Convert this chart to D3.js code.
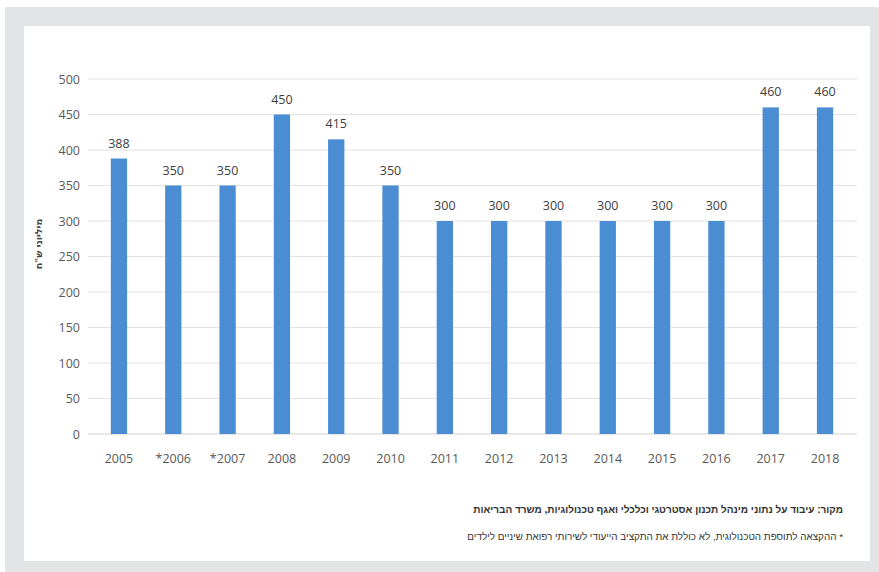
<!DOCTYPE html>
<html><head><meta charset="utf-8">
<script src="https://cdn.jsdelivr.net/npm/d3@7"></script>
<style>body{margin:0;background:#fff}svg{display:block}</style>
</head><body>
<svg id="c" width="879" height="572"></svg>
<script>
const years = ["2005","*2006","*2007","2008","2009","2010","2011","2012","2013","2014","2015","2016","2017","2018"];
const values = [388,350,350,450,415,350,300,300,300,300,300,300,460,460];
const yTicks = [0,50,100,150,200,250,300,350,400,450,500];
const yTitle = "מיליוני ש\"ח";
const source = "מקור: עיבוד על נתוני מינהל תכנון אסטרטגי וכלכלי ואגף טכנולוגיות, משרד הבריאות";
const note = "* ההקצאה לתוספת הטכנולוגית, לא כוללת את התקציב הייעודי לשירותי רפואת שיניים לילדים";

const svg = d3.select("#c");
const font = "'Liberation Sans Narrow','Open Sans',sans-serif";
svg.append("rect").attr("x",5).attr("y",7).attr("width",874).attr("height",565).attr("fill","#e3e4e6");
svg.append("rect").attr("x",24).attr("y",26).attr("width",846).attr("height",535).attr("fill","#ffffff");

const x = d3.scaleBand().domain(years).range([91.8,852.2]).paddingInner(0.7).paddingOuter(0.35);
const y = d3.scaleLinear().domain([0,500]).range([434,79]);

// grid
svg.append("g").selectAll("line").data(yTicks).join("line")
  .attr("x1",88).attr("x2",857).attr("y1",d=>y(d)).attr("y2",d=>y(d))
  .attr("stroke",d=>d===0?"#d0d0d0":"#e2e2e2").attr("stroke-width",1);

// y axis
const ya = svg.append("g").attr("transform","translate(80,0)")
  .call(d3.axisLeft(y).tickValues(yTicks).tickSize(0).tickPadding(0));
ya.select(".domain").remove();
ya.selectAll("text").attr("font-family",font).attr("font-size",12.5).attr("fill","#595959");

// x axis
const xa = svg.append("g").attr("transform","translate(0,434)")
  .call(d3.axisBottom(x).tickSize(0).tickPadding(20));
xa.select(".domain").remove();
xa.selectAll("text").attr("font-family",font).attr("font-size",12.5).attr("fill","#595959");

// bars
svg.append("g").selectAll("rect").data(values).join("rect")
  .attr("x",(d,i)=>x(years[i])).attr("width",x.bandwidth())
  .attr("y",d=>y(d)).attr("height",d=>y(0)-y(d)).attr("fill","#4a8dd3");

// value labels
svg.append("g").selectAll("text").data(values).join("text")
  .attr("x",(d,i)=>x(years[i])+x.bandwidth()/2).attr("y",d=>y(d)-11)
  .attr("text-anchor","middle").attr("font-family",font).attr("font-size",12.5).attr("fill","#404040")
  .text(d=>d);

// y title
svg.append("text").attr("transform","translate(42,244) rotate(-90)")
  .attr("text-anchor","middle").attr("font-family","'DejaVu Sans',sans-serif").attr("font-size",9.5).attr("font-weight","bold").attr("fill","#444")
  .attr("direction","rtl").text(yTitle);

// captions
svg.append("text").attr("x",843).attr("y",513).attr("text-anchor","start").attr("direction","rtl")
  .attr("font-family","'Liberation Sans Narrow','Liberation Sans',sans-serif").attr("font-weight","bold").attr("font-size",10).attr("fill","#333")
  .text(source);
svg.append("text").attr("x",843).attr("y",540).attr("text-anchor","start").attr("direction","rtl")
  .attr("font-family","'Liberation Sans Narrow','Liberation Sans',sans-serif").attr("font-size",9.9).attr("fill","#333")
  .text(note);
</script>
</body></html>
